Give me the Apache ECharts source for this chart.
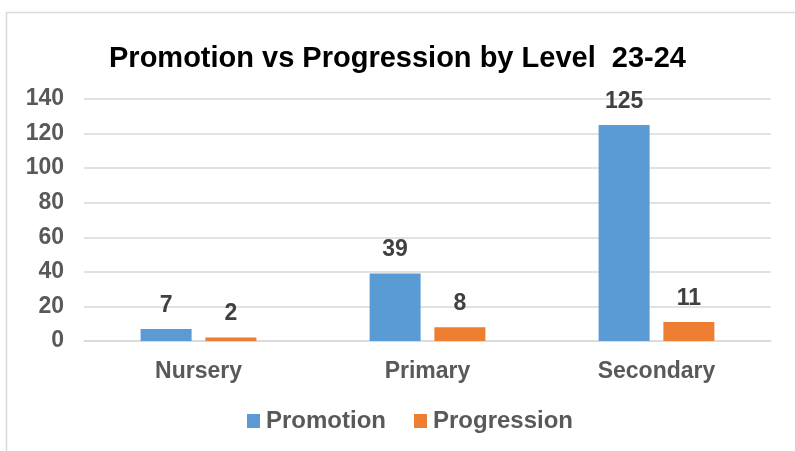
<!DOCTYPE html>
<html>
<head>
<meta charset="utf-8">
<script src="https://cdn.jsdelivr.net/npm/echarts@6/dist/echarts.min.js"></script>
<style>html,body{margin:0;padding:0;background:#fff}#c{width:795px;height:451px}</style>
</head>
<body>
<div id="c"></div>
<script>
const categories = ['Nursery', 'Primary', 'Secondary'];
const promotion = [7, 39, 125];
const progression = [2, 8, 11];
const yTicks = [0, 20, 40, 60, 80, 100, 120, 140];

const chart = echarts.init(document.getElementById('c'));
const font = 'Arial, "Liberation Sans", sans-serif';
chart.setOption({
  animation: false,
  backgroundColor: '#fff',
  graphic: [{
    type: 'rect', left: 4, top: 10, silent: true,
    shape: { width: 800, height: 450 },
    style: { fill: 'none', stroke: '#d9d9d9', lineWidth: 1.5 }
  }],
  title: {
    text: 'Promotion vs Progression by Level  23-24',
    left: 'center', top: 39,
    textStyle: { fontFamily: font, fontSize: 29, fontWeight: 'bold', color: '#000' }
  },
  legend: {
    bottom: 13, left: 242, itemWidth: 13, itemHeight: 14, itemGap: 28,
    icon: 'rect',
    textStyle: { fontFamily: font, fontSize: 24, fontWeight: 'bold', color: '#595959', padding: [0, 0, 0, 1] },
    data: ['Promotion', 'Progression']
  },
  grid: { left: 84, right: 24, top: 99, bottom: 110, containLabel: false },
  xAxis: {
    type: 'category', data: categories,
    axisLine: { show: true, lineStyle: { color: '#d9d9d9', width: 1.5 } },
    axisTick: { show: false },
    axisLabel: { fontFamily: font, fontSize: 23, fontWeight: 'bold', color: '#595959', margin: 19 }
  },
  yAxis: {
    type: 'value', min: yTicks[0], max: yTicks[yTicks.length - 1], interval: 20,
    axisLine: { show: false }, axisTick: { show: false },
    splitLine: { lineStyle: { color: '#d9d9d9', width: 1.5 } },
    axisLabel: { fontFamily: font, fontSize: 23, fontWeight: 'bold', color: '#595959', margin: 20 }
  },
  series: [
    {
      name: 'Promotion', type: 'bar', data: promotion, barWidth: 51, barGap: '27%',
      itemStyle: { color: '#5B9BD5' },
      label: { show: true, position: 'top', distance: 12, fontFamily: font, fontSize: 23, fontWeight: 'bold', color: '#404040' }
    },
    {
      name: 'Progression', type: 'bar', data: progression, barWidth: 51,
      itemStyle: { color: '#ED7D31' },
      label: { show: true, position: 'top', distance: 12, fontFamily: font, fontSize: 23, fontWeight: 'bold', color: '#404040' }
    }
  ]
});
</script>
</body>
</html>
